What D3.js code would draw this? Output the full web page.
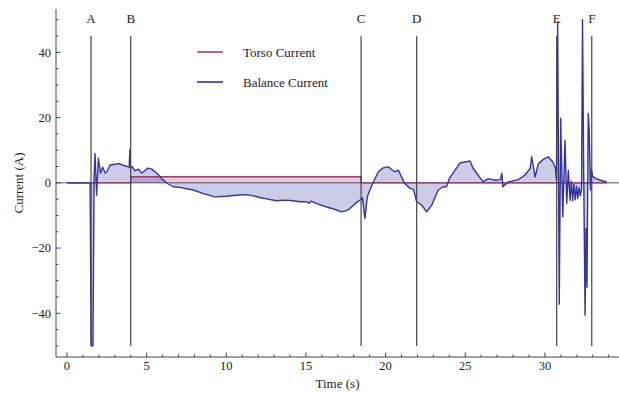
<!DOCTYPE html>
<html>
<head>
<meta charset="utf-8">
<script src="https://cdn.jsdelivr.net/npm/d3@7"></script>
<style>
  body { margin: 0; background: #fff; }
  text { font-family: "Liberation Serif", "Times New Roman", serif; fill: #222; }
</style>
</head>
<body>
<div id="chart"></div>
<script>
// balance current (time in s, current in A)
const balanceTime = [
  0, 1.45, 1.52, 1.63, 1.70, 1.76, 1.86, 1.97, 2.10, 2.24, 2.39, 2.50, 2.70, 3.00, 3.25, 3.53, 3.90, 3.95, 3.99,
  4.10, 4.27, 4.48, 4.69, 4.90, 5.10, 5.32, 5.63, 5.94, 6.30, 6.67, 7.10, 7.50, 7.93, 8.56, 9.29, 10.0, 10.6,
  11.28, 11.7, 12.1, 12.6, 13.16, 13.7, 14.2, 14.6, 15.05, 15.2, 15.3, 15.8, 16.3, 16.8, 17.24, 17.5, 17.76,
  18.1, 18.39, 18.55, 18.7, 18.85, 19.1, 19.54, 19.85, 20.17, 20.4, 20.6, 20.8, 21.2, 21.53, 21.75, 21.95,
  22.26, 22.58, 22.9, 23.3, 23.62, 23.82, 24.0, 24.36, 24.67, 24.98, 25.3, 25.5, 25.8, 26.13, 26.45, 26.87,
  27.2, 27.3, 27.36, 27.7, 28.33, 28.75, 29.07, 29.17, 29.38, 29.59, 29.9, 30.2, 30.5, 30.66, 30.72, 30.80,
  30.90, 30.99, 31.12, 31.26, 31.37, 31.47, 31.58, 31.66, 31.74, 31.82, 31.90, 31.98, 32.06, 32.14, 32.22,
  32.30, 32.36, 32.44, 32.52, 32.58, 32.64, 32.72, 32.78, 32.86, 32.92, 33.0, 33.2, 33.5, 33.88
];
const balanceCurrent = [
  0, 0, -50, -50, 2, 9, -3.8, 7.6, 3.0, 4.8, 3.0, 3.4, 5.4, 5.7, 5.9, 5.4, 4.8, 10.2, 4.5,
  4.9, 3.7, 4.2, 3.0, 3.8, 4.5, 4.2, 3.0, 1.3, -0.2, -1.2, -1.4, -1.8, -2.2, -3.3, -4.3, -4.1, -3.8,
  -3.6, -4.0, -4.5, -5.0, -5.5, -5.3, -5.5, -5.8, -5.8, -6.3, -5.6, -6.6, -7.4, -8.1, -8.9, -8.6, -7.9,
  -6.3, -5.3, -4.6, -10.9, -4.3, -1.2, 3.4, 4.6, 4.9, 4.0, 3.4, 3.9, -0.2, -1.7, -2.0, -5.8,
  -6.8, -8.9, -6.8, -2.2, -1.2, -1.2, 1.3, 3.9, 6.1, 6.4, 6.7, 4.4, 2.4, 0.3, 1.3, 0.8,
  1.0, 2.9, -1.2, 0.3, 1.0, 2.4, 4.4, 8.0, 1.8, 5.9, 7.2, 8.0, 6.4, 4.4, 1.0, 49.4,
  -37.2, 19.8, -10.4, 13.1, -6.3, 3.9, -5.4, 0.5, -5.5, -0.5, -5.2, -1.0, -4.8, -1.5, -4.0,
  -2.0, 50, 0, -40.6, -14, -32, 21.3, 16, -2.2, 4, 2, 1.3, 0.8, 0.3
];

// torso current: a step between B and C
const torsoTime = [0, 4.0, 4.0, 18.46, 18.46, 33.9];
const torsoCurrent = [0, 0, 1.85, 1.85, 0, 0];

const eventLabels = ['A', 'B', 'C', 'D', 'E', 'F'];
const eventTimes = [1.51, 4.0, 18.46, 21.95, 30.74, 32.94];

const legendLabels = ['Torso Current', 'Balance Current'];
const xTicks = [0, 5, 10, 15, 20, 25, 30];
const yTicks = [-40, -20, 0, 20, 40];

const width = 619, height = 393;
const margin = {top: 9, right: 0, bottom: 36, left: 56};
const innerW = width - margin.left - margin.right;
const innerH = height - margin.top - margin.bottom;

const torsoColor = '#993d74';
const balanceColor = '#3535a0';

const svg = d3.select('#chart').append('svg')
  .attr('width', width)
  .attr('height', height);

const g = svg.append('g')
  .attr('transform', `translate(${margin.left}, ${margin.top})`);

const x = d3.scaleLinear().domain([-0.69, 34.65]).range([0, innerW]);
const y = d3.scaleLinear().domain([-53.4, 53.3]).range([innerH, 0]);

g.append('clipPath').attr('id', 'clip')
  .append('rect').attr('width', innerW).attr('height', innerH);

const plot = g.append('g').attr('clip-path', 'url(#clip)');

// zero axis
plot.append('line')
  .attr('x1', 0).attr('x2', innerW)
  .attr('y1', y(0)).attr('y2', y(0))
  .attr('stroke', '#555').attr('stroke-width', 1);

const balance = balanceTime.map((t, i) => [t, balanceCurrent[i]]);
const torso = torsoTime.map((t, i) => [t, torsoCurrent[i]]);

const area = d3.area()
  .x(d => x(d[0]))
  .y0(y(0))
  .y1(d => y(d[1]));
const line = d3.line()
  .x(d => x(d[0]))
  .y(d => y(d[1]));

plot.append('path').datum(torso)
  .attr('d', area)
  .attr('fill', torsoColor).attr('fill-opacity', 0.28);
plot.append('path').datum(balance)
  .attr('d', area)
  .attr('fill', balanceColor).attr('fill-opacity', 0.25);

plot.append('path').datum(torso)
  .attr('d', line)
  .attr('fill', 'none').attr('stroke', torsoColor).attr('stroke-width', 1.4);
plot.append('path').datum(balance)
  .attr('d', line)
  .attr('fill', 'none').attr('stroke', balanceColor).attr('stroke-width', 1.4)
  .attr('stroke-linejoin', 'round');

// event markers
eventTimes.forEach((t, i) => {
  g.append('line')
    .attr('x1', x(t)).attr('x2', x(t))
    .attr('y1', y(45)).attr('y2', y(-50))
    .attr('stroke', '#444').attr('stroke-width', 1.2);
  g.append('text')
    .attr('x', x(t)).attr('y', y(45) - 13)
    .attr('text-anchor', 'middle')
    .attr('font-size', 13)
    .text(eventLabels[i]);
});

// axes
const xAxis = g.append('g').attr('transform', `translate(0, ${innerH})`);
xAxis.append('line').attr('x1', 0).attr('x2', innerW).attr('stroke', '#444');
xAxis.selectAll('.minor').data(d3.range(0, 35))
  .enter().append('line')
  .attr('x1', d => x(d)).attr('x2', d => x(d))
  .attr('y1', 0).attr('y2', d => xTicks.includes(d) ? -4.5 : -2.5)
  .attr('stroke', '#444');
xAxis.selectAll('text').data(xTicks)
  .enter().append('text')
  .attr('x', d => x(d)).attr('y', 13)
  .attr('text-anchor', 'middle')
  .attr('font-size', 12.5)
  .text(d => d);

const yAxis = g.append('g');
yAxis.append('line').attr('y1', 0).attr('y2', innerH).attr('stroke', '#444');
yAxis.selectAll('.minor').data(d3.range(-50, 51, 5))
  .enter().append('line')
  .attr('y1', d => y(d)).attr('y2', d => y(d))
  .attr('x1', 0).attr('x2', d => yTicks.includes(d) ? 4.5 : 2.5)
  .attr('stroke', '#444');
yAxis.selectAll('text').data(yTicks)
  .enter().append('text')
  .attr('x', -5).attr('y', d => y(d))
  .attr('dy', '0.35em')
  .attr('text-anchor', 'end')
  .attr('font-size', 12.5)
  .text(d => d < 0 ? '\u2212' + Math.abs(d) : d);

svg.append('text')
  .attr('x', margin.left + innerW / 2).attr('y', 388)
  .attr('text-anchor', 'middle')
  .attr('font-size', 13)
  .text('Time (s)');

svg.append('text')
  .attr('transform', `translate(23, ${margin.top + innerH / 2}) rotate(-90)`)
  .attr('text-anchor', 'middle')
  .attr('font-size', 13)
  .text('Current (A)');

// legend
const legend = svg.append('g').attr('transform', 'translate(197, 52)');
[torsoColor, balanceColor].forEach((c, i) => {
  legend.append('line')
    .attr('x1', 0).attr('x2', 26)
    .attr('y1', i * 30).attr('y2', i * 30)
    .attr('stroke', c).attr('stroke-width', 1.6);
  legend.append('text')
    .attr('x', 46).attr('y', i * 30)
    .attr('dy', '0.35em')
    .attr('font-size', 13)
    .text(legendLabels[i]);
});
</script>
</body>
</html>
